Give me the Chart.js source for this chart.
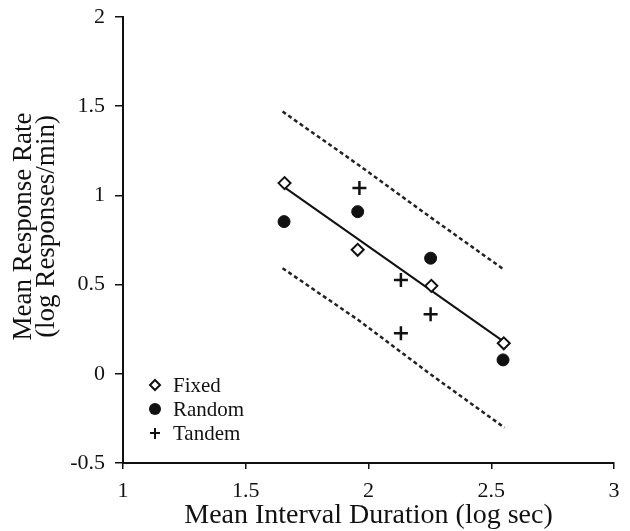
<!DOCTYPE html>
<html>
<head>
<meta charset="utf-8">
<script src="https://cdn.jsdelivr.net/npm/chart.js@4"></script>
<style>
	html, body { margin: 0; padding: 0; background: #fff; }
	#wrap { width: 630px; height: 531px; }
</style>
</head>
<body>
<div id="wrap"><canvas id="myChart" width="630" height="531"></canvas></div>
<script>
// data
var fixedX = [1.658, 1.956, 2.256, 2.551];
var fixedY = [1.069, 0.695, 0.493, 0.171];
var randomX = [1.656, 1.956, 2.253, 2.548];
var randomY = [0.853, 0.909, 0.648, 0.078];
var tandemX = [1.963, 2.132, 2.132, 2.253];
var tandemY = [1.041, 0.526, 0.227, 0.334];
var fitX = [1.658, 2.551];
var fitY = [1.045, 0.18];
var bandX = [1.65, 1.96, 2.25, 2.554];
var upperY = [1.47, 1.17, 0.88, 0.582];
var lowerY = [0.592, 0.30, 0.0, -0.302];
var xTicks = [1, 1.5, 2, 2.5, 3];
var yTicks = [-0.5, 0, 0.5, 1, 1.5, 2];

function pts(xs, ys) {
	return xs.map(function (x, i) { return { x: x, y: ys[i] }; });
}

var serif = "'Liberation Serif', 'Times New Roman', serif";
var ink = '#111';

// legend drawn inside the plot, lower left
var innerLegend = {
	id: 'innerLegend',
	afterDraw: function (chart) {
		var c = chart.ctx;
		var items = [
			{ text: 'Fixed', style: 'diamond' },
			{ text: 'Random', style: 'dot' },
			{ text: 'Tandem', style: 'plus' },
		];
		var x0 = 155, y0 = 385, gap = 24;
		c.save();
		c.font = '21px ' + serif;
		c.textBaseline = 'middle';
		c.fillStyle = ink;
		c.strokeStyle = ink;
		c.lineWidth = 2;
		items.forEach(function (it, i) {
			var y = y0 + i * gap;
			c.beginPath();
			if (it.style === 'diamond') {
				c.moveTo(x0, y - 5); c.lineTo(x0 + 5, y); c.lineTo(x0, y + 5); c.lineTo(x0 - 5, y); c.closePath();
				c.fillStyle = '#fff'; c.fill(); c.stroke(); c.fillStyle = ink;
			} else if (it.style === 'dot') {
				c.arc(x0, y, 6, 0, Math.PI * 2); c.fill();
			} else {
				c.moveTo(x0 - 5, y); c.lineTo(x0 + 5, y); c.moveTo(x0, y - 5); c.lineTo(x0, y + 6); c.stroke();
			}
			c.fillText(it.text, x0 + 18, y + 1);
		});
		c.restore();
	},
};

var ctx = document.getElementById('myChart');
var myChart = new Chart(ctx, {
	type: 'scatter',
	data: {
		datasets: [
			{
				label: 'Fixed',
				data: pts(fixedX, fixedY),
				pointStyle: 'rectRot',
				pointRadius: 6,
				backgroundColor: '#fff',
				borderColor: ink,
				borderWidth: 2,
				order: 0,
			},
			{
				label: 'Random',
				data: pts(randomX, randomY),
				pointStyle: 'circle',
				pointRadius: 6,
				backgroundColor: ink,
				borderColor: ink,
				order: 0,
			},
			{
				label: 'Tandem',
				data: pts(tandemX, tandemY),
				pointStyle: 'cross',
				pointRadius: 7,
				borderColor: ink,
				borderWidth: 2.5,
				order: 0,
			},
			{
				label: 'Fit',
				data: pts(fitX, fitY),
				showLine: true,
				pointRadius: 0,
				borderColor: ink,
				borderWidth: 2,
				order: 1,
			},
			{
				label: 'Upper',
				data: pts(bandX, upperY),
				showLine: true,
				pointRadius: 0,
				borderColor: '#222',
				borderWidth: 2.5,
				borderDash: [4, 3],
				order: 1,
			},
			{
				label: 'Lower',
				data: pts(bandX, lowerY),
				showLine: true,
				pointRadius: 0,
				borderColor: '#222',
				borderWidth: 2.5,
				borderDash: [4, 3],
				order: 1,
			},
		],
	},
	options: {
		responsive: false,
		animation: false,
		layout: { padding: { top: 17, right: 16, left: 0, bottom: 0 } },
		plugins: {
			legend: { display: false },
			tooltip: { enabled: false },
		},
		scales: {
			x: {
				type: 'linear',
				min: 1,
				max: 3,
				afterBuildTicks: function (axis) { axis.ticks = xTicks.map(function (v) { return { value: v }; }); },
				afterFit: function (axis) { axis.height = 68; },
				grid: { drawOnChartArea: false, color: ink, tickLength: 6, lineWidth: 1.5 },
				border: { color: ink, width: 2 },
				ticks: {
					color: ink,
					font: { family: serif, size: 22 },
					padding: 9,
					maxRotation: 0,
					callback: function (v) { return String(v); },
				},
				title: {
					display: true,
					text: 'Mean Interval Duration (log sec)',
					color: ink,
					font: { family: serif, size: 28, lineHeight: 1.0 },
					padding: { top: 0, bottom: 1 },
				},
			},
			y: {
				type: 'linear',
				min: -0.5,
				max: 2,
				afterBuildTicks: function (axis) { axis.ticks = yTicks.map(function (v) { return { value: v }; }); },
				afterFit: function (axis) {
					axis.width = 123;
					axis.paddingTop = 0;
					axis.paddingBottom = 0;
				},
				grid: { drawOnChartArea: false, color: ink, tickLength: 8, lineWidth: 1.5 },
				border: { color: ink, width: 2 },
				ticks: {
					color: ink,
					font: { family: serif, size: 22 },
					padding: 10,
					callback: function (v) { return String(v); },
				},
				title: {
					display: true,
					text: ['    Mean Response Rate', '    (log Responses/min)'],
					color: ink,
					font: { family: serif, size: 27, lineHeight: 0.86 },
					padding: { top: 12, bottom: 0 },
				},
			},
		},
	},
	plugins: [innerLegend],
});
</script>
</body>
</html>
